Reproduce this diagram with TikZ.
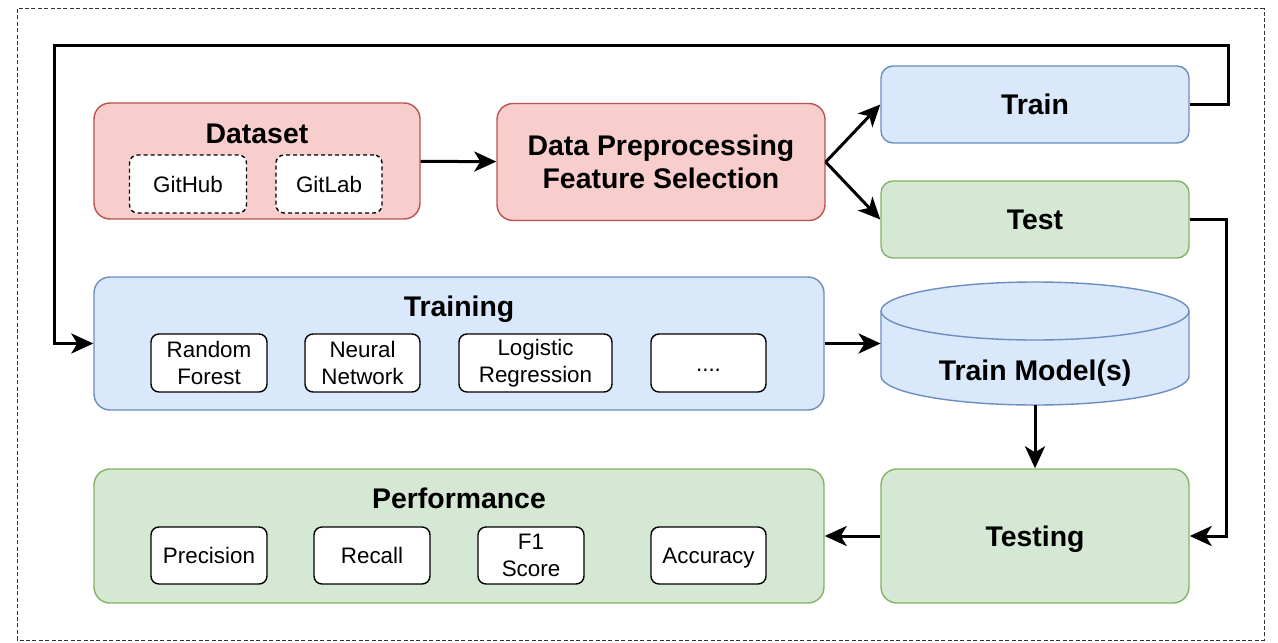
\documentclass[tikz,border=0pt]{standalone}
\usepackage{fontspec}
\setmainfont{Liberation Sans}
\usepackage{tikz}
\usetikzlibrary{arrows.meta}

\definecolor{redfill}{HTML}{F8CECC}
\definecolor{redline}{HTML}{B85450}
\definecolor{bluefill}{HTML}{DAE8FC}
\definecolor{blueline}{HTML}{6C8EBF}
\definecolor{greenfill}{HTML}{D5E8D4}
\definecolor{greenline}{HTML}{82B366}

\begin{document}
\begin{tikzpicture}[x=0.5pt, y=-0.5pt,
    redbox/.style={draw=redline, fill=redfill, line width=0.7pt, rounded corners=8pt},
    bluebox/.style={draw=blueline, fill=bluefill, line width=0.7pt, rounded corners=8pt},
    greenbox/.style={draw=greenline, fill=greenfill, line width=0.7pt, rounded corners=8pt},
    title/.style={font=\fontsize{14.2}{16.5}\selectfont\bfseries, align=center},
    onetitle/.style={title, text height=10.2pt, text depth=0pt},
    item/.style={draw=black, fill=white, line width=0.7pt, rounded corners=4pt,
        minimum height=29pt, align=center, inner sep=1pt,
        font=\fontsize{11.2}{13.4}\selectfont},
    oneitem/.style={item, text height=8pt, text depth=0pt},
    source/.style={oneitem, dashed, dash pattern=on 2pt off 1.5pt},
    arr/.style={-{Stealth[length=11pt, width=10pt, inset=3pt]}, line width=1.5pt}]
\useasboundingbox (0,0) rectangle (1278,642);
% Frame
\draw[line width=0.5pt, dash pattern=on 2pt off 1.2pt, black!80] (17,9) rectangle (1264,640);
% Nodes
\node[redbox, minimum width=163pt, minimum height=58pt] (dataset) at (257,161) {};
\node[onetitle] (datasettitle) at (257,133) {Dataset};
\node[source, minimum width=58.5pt] (github) at (188,184) {GitHub};
\node[source, minimum width=53pt] (gitlab) at (329,184) {GitLab};
\node[redbox, title, minimum width=164pt, minimum height=58.5pt] (prep) at (661,162)
    {Data Preprocessing\\Feature Selection};
\node[bluebox, onetitle, rounded corners=6pt, minimum width=154pt, minimum height=38.5pt] (train) at (1035,104.5) {Train};
\node[greenbox, onetitle, rounded corners=6pt, minimum width=154pt, minimum height=38.5pt] (test) at (1035,219.5) {Test};
\node[bluebox, minimum width=365pt, minimum height=66.5pt] (training) at (459,343.5) {};
\node[onetitle] (trainingtitle) at (459,306) {Training};
\node[item, minimum width=58pt] (rf) at (209,363) {Random\\Forest};
\node[item, minimum width=57.5pt] (nn) at (362.5,363) {Neural\\Network};
\node[item, minimum width=76.5pt] (lr) at (535.5,363) {Logistic\\Regression};
\node[oneitem, minimum width=57.5pt] (more) at (708.5,363) {....};
% Train model(s) cylinder
\node[minimum width=154pt, minimum height=61.5pt, inner sep=0pt] (model) at (1035,343.5) {};
\path[draw=blueline, fill=bluefill, line width=0.7pt] (881,311) -- (881,376)
    arc[start angle=180, end angle=360, x radius=77pt, y radius=14.5pt] -- (1189,311)
    arc[start angle=0, end angle=180, x radius=77pt, y radius=14.5pt] -- cycle;
\draw[blueline, line width=0.7pt] (881,311)
    arc[start angle=180, end angle=360, x radius=77pt, y radius=14.5pt];
\node[onetitle] (modeltitle) at (1035,370) {Train Model(s)};
\node[greenbox, onetitle, minimum width=154pt, minimum height=67pt] (testing) at (1035,536) {Testing};
\node[greenbox, minimum width=365pt, minimum height=67pt] (perf) at (459,536) {};
\node[onetitle] (perftitle) at (459,498) {Performance};
\node[oneitem, minimum width=58pt, minimum height=28.5pt] (precision) at (209,555.5) {Precision};
\node[oneitem, minimum width=58pt, minimum height=28.5pt] (recall) at (372,555.5) {Recall};
\node[item, minimum width=53pt, minimum height=28.5pt] (f1) at (531,555.5) {F1\\Score};
\node[oneitem, minimum width=57.5pt, minimum height=28.5pt] (accuracy) at (708.5,555.5) {Accuracy};
% Edges
\coordinate (loopr) at (1228,46);
\coordinate (loopl) at (54,46);
\coordinate (testr) at (1226,219.5);
\draw[arr] (dataset) -- (prep);
\draw[arr] (prep.east) -- (train.west);
\draw[arr] (prep.east) -- (test.west);
\draw[arr] (train.east) -| (loopr) -- (loopl) |- (training.west);
\draw[arr] (test.east) -- (testr) |- (testing.east);
\draw[arr] (training) -- (model);
\draw[arr] (model) -- (testing);
\draw[arr] (testing) -- (perf);
\end{tikzpicture}
\end{document}
